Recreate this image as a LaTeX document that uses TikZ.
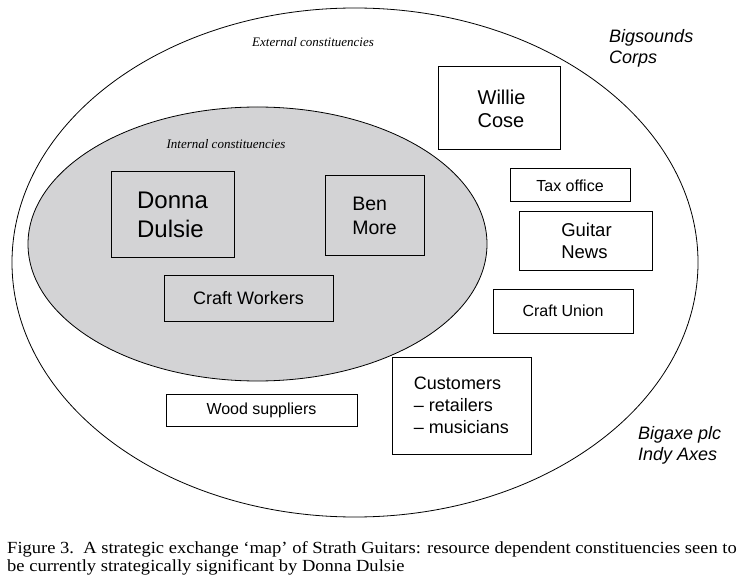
\documentclass[tikz,border=0pt]{standalone}
\usepackage{fontspec}
\setmainfont{Liberation Serif}
\setsansfont{Liberation Sans}
\newfontfamily\capfont[FakeStretch=1.09]{Liberation Serif}
\newfontfamily\labfont{Liberation Sans}
\definecolor{innergray}{RGB}{211,211,213}
\begin{document}
\begin{tikzpicture}[x=1pt,y=-1pt,
  box/.style={draw=black,line width=1pt,inner sep=0pt,font=\labfont},
  wbox/.style={box,fill=white},
  hdr/.style={font=\rmfamily\itshape\fontsize{13}{15}\selectfont,inner sep=0pt},
  corp/.style={font=\sffamily\itshape\fontsize{18}{21.5}\selectfont,align=left,inner sep=0pt,anchor=north west}]
\useasboundingbox (0,0) rectangle (749,577);
% outer ellipse
\draw[line width=0.8pt] (355,262.5) ellipse [x radius=343, y radius=254.5];
% inner ellipse
\draw[line width=0.8pt,fill=innergray] (257.5,244) ellipse [x radius=229.5, y radius=137];
% headers
\node[hdr] (ext) at (313,42) {External constituencies};
\node[hdr] (int) at (226,144) {Internal constituencies};
% corporate names
\node[corp] (big) at (609,29) {Bigsounds\\Corps};
\node[corp] (axe) at (638,426) {Bigaxe plc\\Indy Axes};
% internal boxes
\node[box,minimum width=123pt,minimum height=86pt,align=left,font=\labfont\fontsize{24}{29}\selectfont] (donna) at (172.5,215) {Donna\\Dulsie};
\node[box,minimum width=99pt,minimum height=80pt,align=left,font=\labfont\fontsize{19.5}{24}\selectfont] (ben) at (374.5,216) {Ben\\More};
\node[box,minimum width=169pt,minimum height=46pt,font=\labfont\fontsize{18}{22}\selectfont] (craft) at (248.5,298) {Craft Workers};
% external boxes
\node[wbox,minimum width=122pt,minimum height=83pt,align=left,font=\labfont\fontsize{20}{23}\selectfont] (willie) at (499,108.5) {\hspace*{5pt}Willie\\\hspace*{5pt}Cose};
\node[wbox,minimum width=120pt,minimum height=33pt,font=\labfont\fontsize{16}{19}\selectfont] (tax) at (570,185.5) {Tax office};
\node[wbox,minimum width=133pt,minimum height=58pt,align=left,font=\labfont\fontsize{18.5}{22}\selectfont] (guitar) at (585.5,241) {\hspace*{2pt}Guitar\\\hspace*{2pt}News};
\node[wbox,minimum width=140pt,minimum height=44pt,font=\labfont\fontsize{16}{19}\selectfont] (union) at (563,311) {Craft Union};
\node[wbox,minimum width=139pt,minimum height=97pt,align=left,font=\labfont\fontsize{18}{22}\selectfont] (cust) at (461.5,405.5) {Customers\\– retailers\\– musicians};
\node[wbox,minimum width=191pt,minimum height=32pt,font=\labfont\fontsize{16}{19}\selectfont] (wood) at (261.5,410) {Wood suppliers};
% caption
\node[anchor=north west,inner sep=0pt,align=left,font=\capfont\fontsize{17}{18}\selectfont] (cap) at (7,541) {Figure 3.\ \ A strategic exchange ‘map’ of Strath Guitars: resource dependent constituencies seen to\\be currently strategically significant by Donna Dulsie};
\end{tikzpicture}
\end{document}
